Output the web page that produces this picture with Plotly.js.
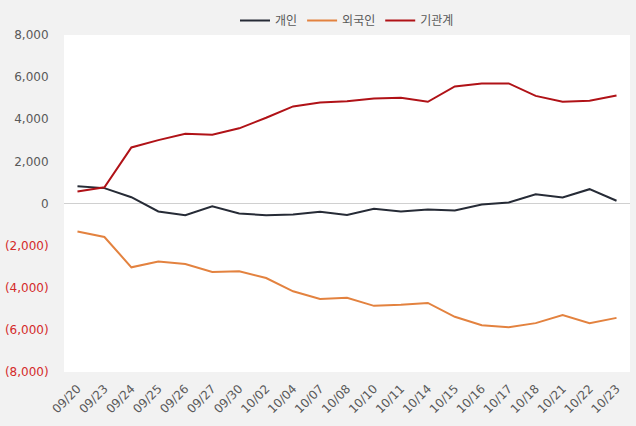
<!DOCTYPE html>
<html><head><meta charset="utf-8">
<script src="https://cdn.plot.ly/plotly-3.0.1.min.js"></script>
<style>html,body{margin:0;padding:0;background:#f2f2f2;}#chart{width:636px;height:426px;}</style>
</head><body><div id="chart"></div>
<script>
const dates = ["09/20","09/23","09/24","09/25","09/26","09/27","09/30","10/02","10/04","10/07","10/08","10/10","10/11","10/14","10/15","10/16","10/17","10/18","10/21","10/22","10/23"];
const individual = [820,730,300,-380,-560,-130,-470,-560,-520,-390,-540,-250,-380,-290,-330,-50,50,440,290,680,130];
const foreign = [-1330,-1590,-3030,-2750,-2870,-3250,-3220,-3540,-4170,-4530,-4480,-4860,-4810,-4720,-5380,-5780,-5870,-5680,-5300,-5680,-5430];
const institution = [570,770,2660,3010,3310,3270,3570,4070,4610,4800,4860,4990,5020,4830,5560,5700,5700,5110,4830,4880,5130];
const yTickVals = [8000,6000,4000,2000,0,-2000,-4000,-6000,-8000];
const yTickText = yTickVals.map(v => v < 0 ? '<span style="color:#d42a2a">(' + Math.abs(v).toLocaleString('en-US') + ')</span>' : v.toLocaleString('en-US'));

const font = "'Noto Sans CJK KR', 'Noto Sans', sans-serif";
const numFont = "'DejaVu Sans', 'Noto Sans CJK KR', sans-serif";
const traces = [
  {x: dates, y: individual, name: '개인', type: 'scatter', mode: 'lines', line: {color: '#262b36', width: 2}},
  {x: dates, y: foreign, name: '외국인', type: 'scatter', mode: 'lines', line: {color: '#e3823f', width: 2}},
  {x: dates, y: institution, name: '기관계', type: 'scatter', mode: 'lines', line: {color: '#b01217', width: 2}}
];
const layout = {
  width: 636, height: 426,
  paper_bgcolor: '#f2f2f2', plot_bgcolor: '#ffffff',
  margin: {l: 64, r: 6, t: 33, b: 54},
  font: {family: font, size: 12, color: '#595959'},
  showlegend: true,
  legend: {orientation: 'h', x: 0.5, xanchor: 'center', y: 1.0, yanchor: 'bottom', font: {size: 12, color: '#595959'}, itemwidth: 30, tracegroupgap: 0},
  xaxis: {type: 'category', range: [-0.5, 20.5], tickangle: -45, showgrid: false, zeroline: false, showline: false,
          ticks: 'outside', ticklen: 4, tickcolor: 'rgba(0,0,0,0)', tickfont: {family: numFont, size: 12, color: '#595959'}},
  yaxis: {range: [-8000, 8000], tickvals: yTickVals, ticktext: yTickText, showgrid: false,
          zeroline: true, zerolinecolor: '#d0d0d0', zerolinewidth: 1, showline: false,
          ticks: 'outside', ticklen: 12, tickcolor: 'rgba(0,0,0,0)', tickfont: {family: numFont, size: 12, color: '#595959'}}
};
Plotly.newPlot('chart', traces, layout, {displayModeBar: false, staticPlot: true});
</script></body></html>
